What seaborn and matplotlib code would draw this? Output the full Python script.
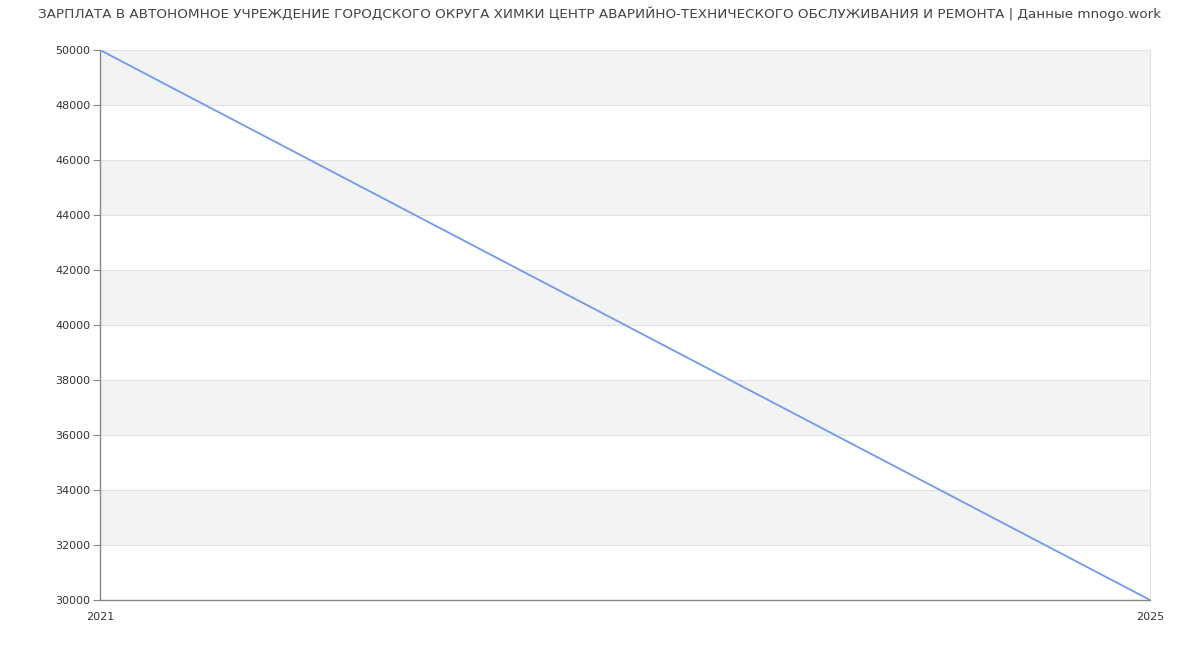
import pandas as pd
import seaborn as sns
import matplotlib.pyplot as plt

# данные графика
years = [2021, 2025]
salary = [50000, 30000]
y_ticks = list(range(30000, 50001, 2000))

title = ("ЗАРПЛАТА В АВТОНОМНОЕ УЧРЕЖДЕНИЕ ГОРОДСКОГО ОКРУГА ХИМКИ ЦЕНТР "
         "АВАРИЙНО-ТЕХНИЧЕСКОГО ОБСЛУЖИВАНИЯ И РЕМОНТА | Данные mnogo.work")

df = pd.DataFrame({"year": years, "salary": salary})

sns.set_style("white")
plt.rcParams["font.family"] = ["DejaVu Sans"]

fig = plt.figure(figsize=(12, 6.5), dpi=100)
ax = fig.add_axes([100 / 1200, 50 / 650, 1050 / 1200, 550 / 650])

# чередующиеся полосы фона
for i, lo in enumerate(y_ticks[:-1]):
    if i % 2 == 1:
        ax.axhspan(lo, lo + 2000, color="#f3f3f3", lw=0, zorder=0)
for t in y_ticks[1:]:
    ax.axhline(t, color="#e2e2e2", lw=0.8, zorder=1)

sns.lineplot(data=df, x="year", y="salary", ax=ax, color="#6e9af2", lw=1.3, zorder=3)

ax.set_xlim(years[0], years[-1])
ax.set_ylim(y_ticks[0], y_ticks[-1])
ax.set_yticks(y_ticks)
ax.set_xticks(years)
ax.set_xlabel("")
ax.set_ylabel("")
ax.tick_params(axis="y", left=True, length=5, width=0.8, color="#888888", labelsize=8, labelcolor="#333333", pad=2)
ax.tick_params(axis="x", bottom=False, length=0, labelsize=8, labelcolor="#333333", pad=9)

for s in ["left", "bottom"]:
    ax.spines[s].set_color("#888888")
    ax.spines[s].set_linewidth(1)
ax.spines["right"].set_color("#e2e2e2")
ax.spines["right"].set_linewidth(0.8)
ax.spines["top"].set_visible(False)

fig.text(0.5, 1 - 14 / 650, title, ha="center", va="center", fontsize=9.7, color="#444444")

fig.savefig("out.png", dpi=100)
